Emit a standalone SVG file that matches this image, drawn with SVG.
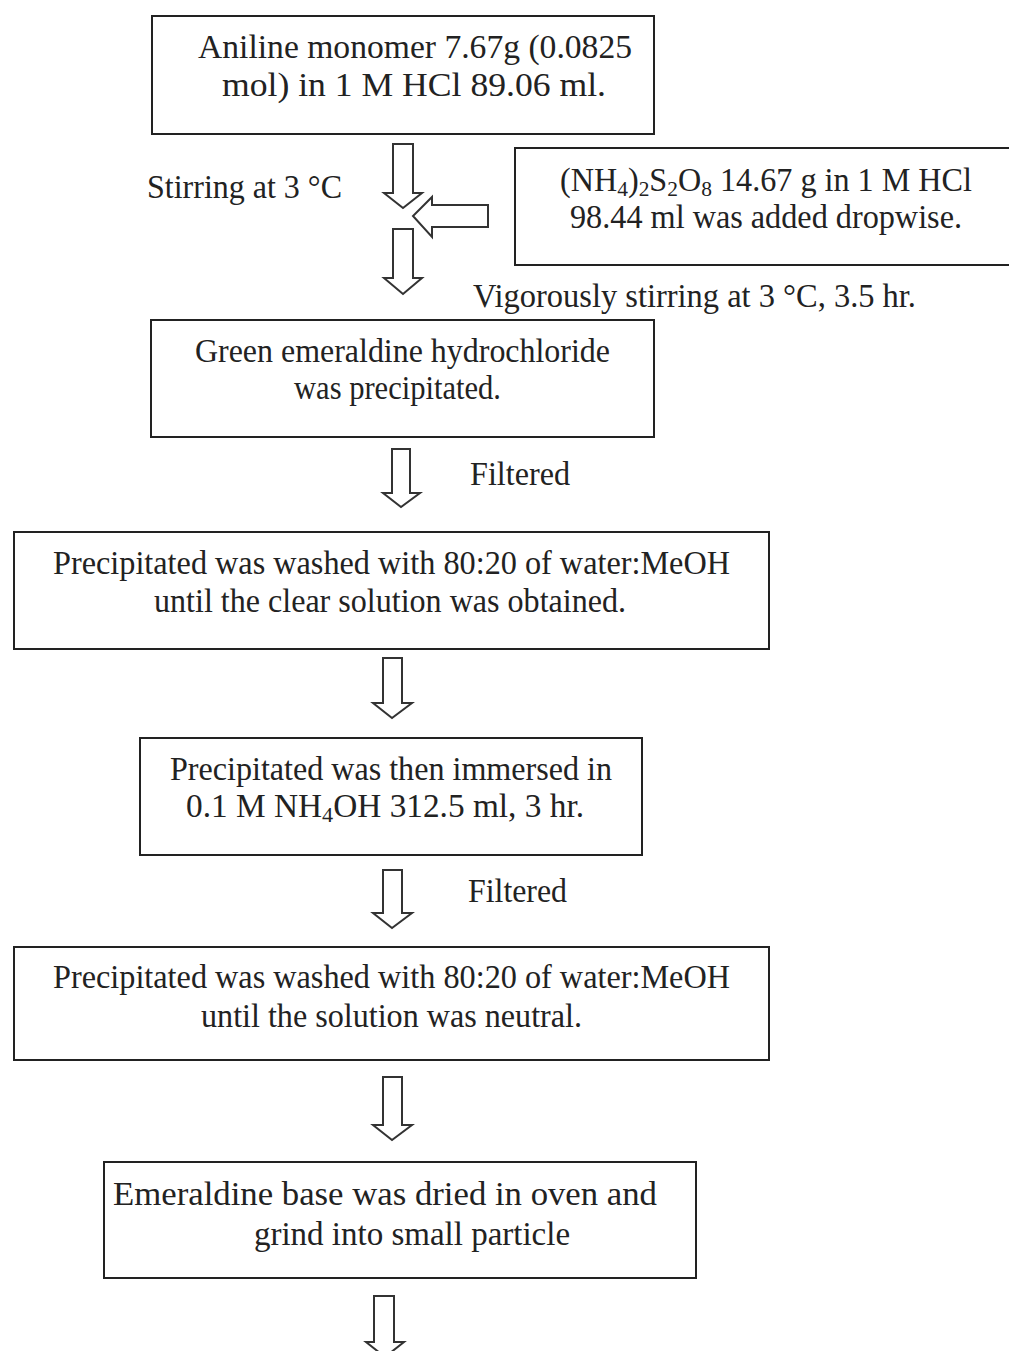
<svg xmlns="http://www.w3.org/2000/svg" width="1009" height="1351" viewBox="0 0 1009 1351">
<style>
.box{fill:#fff;stroke:#222;stroke-width:2}
.arr{fill:#fff;stroke:#333;stroke-width:2;stroke-linejoin:miter}
text{font-family:"Liberation Serif","Times New Roman",serif;font-size:33px;fill:#222}
.sub{font-size:22px}
</style>
<rect width="1009" height="1351" fill="#fff"/>
<g id="connectors">
<path class="arr" d="M393,144 H413 V193 H422 L403,208 L384,193 H393 Z"/>
<path class="arr" d="M488,205 V227 H432 V237 L413,216 L432,197 V205 Z"/>
<path class="arr" d="M393,229 H413 V278 H422 L403,294 L384,278 H393 Z"/>
<path class="arr" d="M392,449 H410 V493 H420 L401,507 L383,493 H392 Z"/>
<path class="arr" d="M383,658 H402 V703 H412 L392,718 L373,703 H383 Z"/>
<path class="arr" d="M383,870 H402 V913 H412 L392,928 L373,913 H383 Z"/>
<path class="arr" d="M383,1077 H402 V1125 H412 L392,1140 L373,1125 H383 Z"/>
<path class="arr" d="M374,1296 H394 V1342 H404 L385,1357 L366,1342 H374 Z"/>
<text id="lbl-stir" x="147" y="198" textLength="195" lengthAdjust="spacingAndGlyphs">Stirring at 3 °C</text>
<text id="lbl-vig" x="473" y="307" textLength="443" lengthAdjust="spacingAndGlyphs">Vigorously stirring at 3 °C, 3.5 hr.</text>
<text id="lbl-filt1" x="470" y="485" textLength="100" lengthAdjust="spacingAndGlyphs">Filtered</text>
<text id="lbl-filt2" x="468" y="902" textLength="99" lengthAdjust="spacingAndGlyphs">Filtered</text>
</g>
<g id="n1">
<rect class="box" x="152" y="16" width="502" height="118"/>
<text x="198" y="58" textLength="434" lengthAdjust="spacingAndGlyphs">Aniline monomer 7.67g (0.0825</text>
<text x="222" y="96" textLength="384" lengthAdjust="spacingAndGlyphs">mol) in 1 M HCl 89.06 ml.</text>
</g>
<g id="n2">
<rect class="box" x="515" y="148" width="510" height="117"/>
<text x="560" y="191" textLength="412" lengthAdjust="spacingAndGlyphs">(NH<tspan class="sub" dy="5">4</tspan><tspan dy="-5">)</tspan><tspan class="sub" dy="5">2</tspan><tspan dy="-5">S</tspan><tspan class="sub" dy="5">2</tspan><tspan dy="-5">O</tspan><tspan class="sub" dy="5">8</tspan><tspan dy="-5"> 14.67 g in 1 M HCl</tspan></text>
<text x="570" y="228" textLength="392" lengthAdjust="spacingAndGlyphs">98.44 ml was added dropwise.</text>
</g>
<g id="n3">
<rect class="box" x="151" y="320" width="503" height="117"/>
<text x="195" y="362" textLength="415" lengthAdjust="spacingAndGlyphs">Green emeraldine hydrochloride</text>
<text x="294" y="399" textLength="207" lengthAdjust="spacingAndGlyphs">was precipitated.</text>
</g>
<g id="n4">
<rect class="box" x="14" y="532" width="755" height="117"/>
<text x="53" y="574" textLength="677" lengthAdjust="spacingAndGlyphs">Precipitated was washed with 80:20 of water:MeOH</text>
<text x="154" y="612" textLength="472" lengthAdjust="spacingAndGlyphs">until the clear solution was obtained.</text>
</g>
<g id="n5">
<rect class="box" x="140" y="738" width="502" height="117"/>
<text x="170" y="780" textLength="442" lengthAdjust="spacingAndGlyphs">Precipitated was then immersed in</text>
<text x="186" y="817" textLength="398" lengthAdjust="spacingAndGlyphs">0.1 M NH<tspan class="sub" dy="5">4</tspan><tspan dy="-5">OH 312.5 ml, 3 hr.</tspan></text>
</g>
<g id="n6">
<rect class="box" x="14" y="947" width="755" height="113"/>
<text x="53" y="988" textLength="677" lengthAdjust="spacingAndGlyphs">Precipitated was washed with 80:20 of water:MeOH</text>
<text x="201" y="1027" textLength="381" lengthAdjust="spacingAndGlyphs">until the solution was neutral.</text>
</g>
<g id="n7">
<rect class="box" x="104" y="1162" width="592" height="116"/>
<text x="113" y="1205" textLength="544" lengthAdjust="spacingAndGlyphs">Emeraldine base was dried in oven and</text>
<text x="412" y="1245" text-anchor="middle" style="font-size:33px">grind into small particle</text>
</g>
</svg>
